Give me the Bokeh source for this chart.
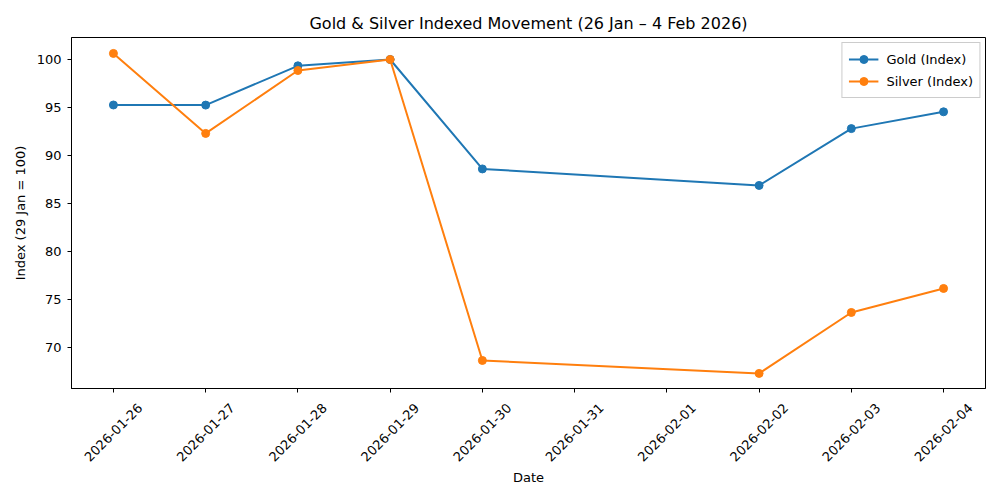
import pandas as pd
from math import pi
from bokeh.plotting import figure
from bokeh.layouts import column
from bokeh.models import FixedTicker, Range1d, Legend, LegendItem, ColumnDataSource
from bokeh.core.properties import value
from bokeh.embed import file_html
from bokeh.resources import INLINE

dates = ["2026-01-26", "2026-01-27", "2026-01-28", "2026-01-29", "2026-01-30",
         "2026-02-02", "2026-02-03", "2026-02-04"]
gold_index = [95.26, 95.25, 99.34, 100.0, 88.6, 86.88, 92.8, 94.55]
silver_index = [100.63, 92.3, 98.85, 100.0, 68.65, 67.3, 73.65, 76.15]
tick_dates = ["2026-01-26", "2026-01-27", "2026-01-28", "2026-01-29", "2026-01-30",
              "2026-01-31", "2026-02-01", "2026-02-02", "2026-02-03", "2026-02-04"]
y_ticks = [70, 75, 80, 85, 90, 95, 100]

x = pd.to_datetime(dates)
tick_ms = [pd.Timestamp(d).value // 10**6 for d in tick_dates]
t0, t1 = tick_ms[0], tick_ms[-1]
span = t1 - t0

FONT = "DejaVu Sans"
BLUE = "#1f77b4"
ORANGE = "#ff7f0e"

MAIN_H = 394
p = figure(width=1000, height=MAIN_H, frame_width=914, frame_height=351,
           x_axis_type="datetime", output_backend="svg", toolbar_location=None,
           title="Gold & Silver Indexed Movement (26 Jan – 4 Feb 2026)",
           x_range=Range1d(t0 - 0.0505 * span, t1 + 0.0505 * span),
           y_range=Range1d(65.73, 102.29),
           min_border_left=71, min_border_right=15, min_border_top=37, min_border_bottom=6)

p.title.text_font = FONT
p.title.text_font_size = "16px"
p.title.text_font_style = "normal"
p.title.align = "center"
p.title.text_color = "black"
p.title.offset = 0

p.xgrid.visible = False
p.ygrid.visible = False
p.outline_line_color = "black"
p.outline_line_alpha = 1
p.outline_line_width = 1

p.xaxis.ticker = FixedTicker(ticks=tick_ms)
p.xaxis.major_label_overrides = {t: "" for t in tick_ms}
p.xaxis.major_label_text_font_size = "0px"
p.xaxis.major_label_standoff = 0
p.yaxis.ticker = FixedTicker(ticks=y_ticks)

for ax in (p.xaxis[0], p.yaxis[0]):
    ax.axis_line_color = "black"
    ax.major_tick_line_color = "black"
    ax.major_tick_out = 4
    ax.major_tick_in = 0
    ax.minor_tick_line_color = None
p.yaxis.major_label_text_font = FONT
p.yaxis.major_label_text_font_size = "13px"
p.yaxis.major_label_text_color = "black"
p.yaxis.major_label_standoff = 6
p.yaxis.axis_label = "Index (29 Jan = 100)"
p.yaxis.axis_label_text_font = FONT
p.yaxis.axis_label_text_font_size = "13px"
p.yaxis.axis_label_text_font_style = "normal"
p.yaxis.axis_label_text_color = "black"
p.yaxis.axis_label_standoff = 6

gl = p.line(x, gold_index, line_color=BLUE, line_width=2)
gc = p.scatter(x, gold_index, size=8, fill_color=BLUE, line_color=BLUE)
sl = p.line(x, silver_index, line_color=ORANGE, line_width=2)
sc = p.scatter(x, silver_index, size=8, fill_color=ORANGE, line_color=ORANGE)

legend = Legend(items=[LegendItem(label="Gold (Index)", renderers=[gl, gc]),
                       LegendItem(label="Silver (Index)", renderers=[sl, sc])],
                location="top_right", label_text_font=FONT, label_text_font_size="13px",
                label_text_color="black",
                border_line_color="#cccccc", border_line_alpha=1, background_fill_alpha=0.8,
                glyph_width=30, spacing=2, padding=6, margin=5, label_standoff=8)
p.add_layout(legend)

# Panel below the axes holding the rotated date labels (centred on each tick) and the x-axis title
LAB_H = 106
p2 = figure(width=1000, height=LAB_H, frame_width=914, frame_height=LAB_H,
            x_range=p.x_range, y_range=Range1d(LAB_H, 0),
            output_backend="svg", toolbar_location=None,
            min_border_left=71, min_border_right=15, min_border_top=0, min_border_bottom=0,
            x_axis_location=None, y_axis_location=None)
p2.xgrid.visible = False
p2.ygrid.visible = False
p2.outline_line_color = None

tick_row = 432 - MAIN_H
src = ColumnDataSource(dict(x=tick_ms, y=[tick_row] * len(tick_ms), text=tick_dates))
p2.text(x="x", y="y", text="text", source=src, angle=pi / 4,
        text_align="center", text_baseline="middle",
        text_font=value(FONT), text_font_size="13px", text_color="black")
p2.text(x=[(t0 + t1) / 2], y=[477 - MAIN_H], text=["Date"],
        text_align="center", text_baseline="middle",
        text_font=value(FONT), text_font_size="13px", text_color="black")

open("out.html", "w").write(file_html(column(p, p2, spacing=0), INLINE))
